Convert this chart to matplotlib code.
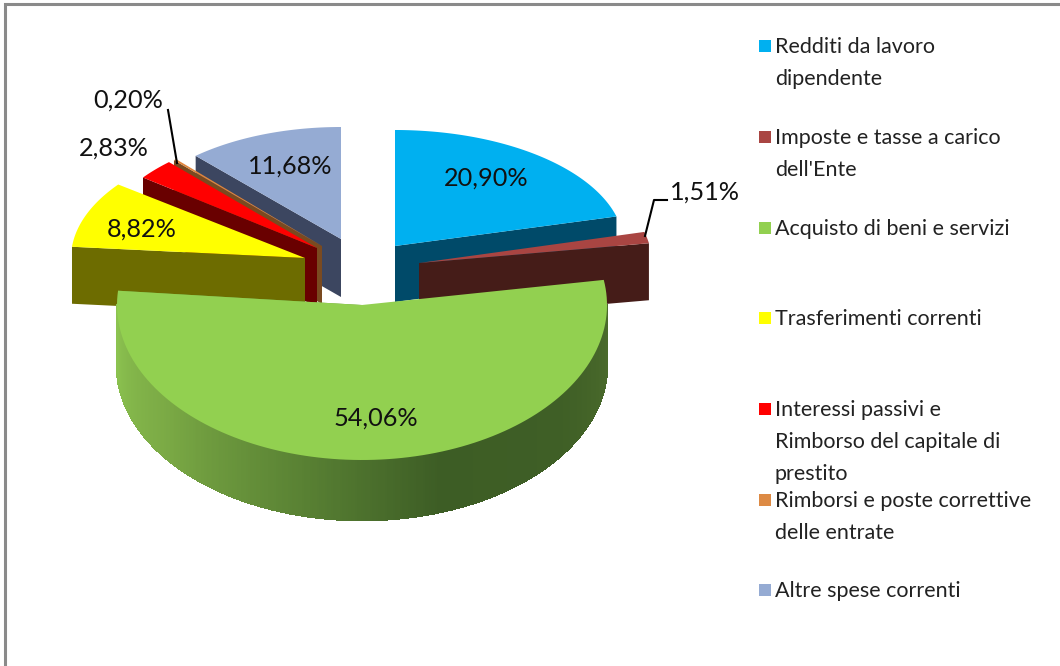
import matplotlib.pyplot as plt
import numpy as np
from matplotlib.collections import PolyCollection
from matplotlib.colors import LinearSegmentedColormap
from matplotlib.patches import Polygon, Rectangle

categories = ["Redditi da lavoro\ndipendente", "Imposte e tasse a carico\ndell'Ente",
              "Acquisto di beni e servizi", "Trasferimenti correnti",
              "Interessi passivi e\nRimborso del capitale di\nprestito",
              "Rimborsi e poste correttive\ndelle entrate", "Altre spese correnti"]
values = [20.90, 1.51, 54.06, 8.82, 2.83, 0.20, 11.68]
value_labels = ["20,90%", "1,51%", "54,06%", "8,82%", "2,83%", "0,20%", "11,68%"]

# look of the slices
top_colors = ["#00B0F0", "#A94542", "#92D050", "#FFFF00", "#FF0000", "#E0853C", "#95ABD3"]
side_colors = ["#004A69", "#451C18", "#6F9C40", "#6D6C00", "#690000", "#7A4A20", "#3C4660"]
legend_colors = ["#00B0F0", "#A94542", "#92D050", "#FFFF00", "#FF0000", "#DD8A44", "#95ABD3"]

# exploded layout in pixels
centers = [(395, 246), (419, 263), (362, 305), (305, 258), (317, 248), (322, 246), (341, 239)]
radii = [(229, 116), (233, 122), (245, 155), (234, 122), (218, 117), (218, 117), (217, 112)]
depths = [56, 57, 60, 57, 58, 58, 58]
draw_order = [6, 5, 4, 3, 0, 1, 2]

label_pos = [(486, 177), (705, 191), (376, 417), (142, 228), (114, 147), (128, 99), (290, 165)]
legend_y = [47, 138, 229, 319, 410, 501, 591]

plt.rcParams['font.family'] = ['Lato', 'DejaVu Sans']
fig = plt.figure(figsize=(10.6, 6.66), dpi=100)
ax = fig.add_axes([0, 0, 1, 1])
ax.set_xlim(0, 1060)
ax.set_ylim(666, 0)
ax.axis('off')


def rim_point(i, deg):
    a = np.radians(deg)
    return (centers[i][0] + radii[i][0] * np.sin(a), centers[i][1] - radii[i][1] * np.cos(a))


green_side = LinearSegmentedColormap.from_list(
    "green_side", ["#8CC350", "#7BAA45", "#5C8535", "#3D5D25", "#3F5F26", "#4C6C2C"])

edges = np.cumsum([0] + values) / sum(values) * 360
for i in draw_order:
    start, end = edges[i], edges[i + 1]
    cx, cy = centers[i]
    d = depths[i]

    # cut face that looks toward the viewer
    cut = start if i in (3, 4, 5, 6) else end
    x0, y0 = rim_point(i, cut)
    ax.add_patch(Polygon([(cx, cy), (x0, y0), (x0, y0 + d), (cx, cy + d)],
                         closed=True, fc=side_colors[i], ec='none'))

    # outer wall on the front half only
    lo, hi = max(start, 90), min(end, 270)
    if hi > lo:
        ang = np.linspace(lo, hi, 361)
        strips = []
        for a0, a1 in zip(ang[:-1], ang[1:]):
            p0, p1 = rim_point(i, a0), rim_point(i, a1)
            strips.append([p0, p1, (p1[0], p1[1] + d), (p0[0], p0[1] + d)])
        pos = (np.linspace(0, 1, len(strips)))[::-1]
        ax.add_collection(PolyCollection(strips, facecolors=green_side(pos),
                                         edgecolors=green_side(pos), linewidths=1.2,
                                         antialiased=False))

    ang = np.linspace(start, end, 120)
    top = [(cx, cy)] + [rim_point(i, a) for a in ang]
    ax.add_patch(Polygon(top, closed=True, fc=top_colors[i], ec='none'))

# leader lines
ax.plot([168, 177], [110, 163], color='black', lw=1.5)
ax.plot([645, 654, 667], [236, 200, 200], color='black', lw=1.5)

for (x, y), txt in zip(label_pos, value_labels):
    ax.text(x, y + 1, txt, fontsize=18.2, ha='center', va='center', color='#111111')

# legend
for y, name, col in zip(legend_y, categories, legend_colors):
    ax.add_patch(Rectangle((759, y - 7), 12, 12, fc=col, ec='none'))
    for k, line in enumerate(name.split("\n")):
        ax.text(775, y + k * 32, line, fontsize=15.5, ha='left', va='center', color='#222222')

# frame of the pasted picture
ax.plot([5, 5, 1060], [666, 4, 4], color='#8A8A8A', lw=2.2, solid_joinstyle='miter')

fig.savefig("out.png", dpi=100)
